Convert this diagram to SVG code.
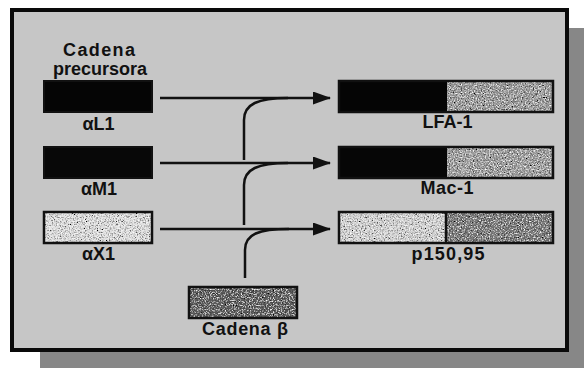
<svg xmlns="http://www.w3.org/2000/svg" width="584" height="368" viewBox="0 0 584 368">
<style>
.lbl{font-family:"Liberation Sans",Arial,sans-serif;font-size:18px;font-weight:bold;fill:#111;text-anchor:middle}
.box{stroke:#111;stroke-width:2}
.con{fill:none;stroke:#111;stroke-width:2.5}
</style>
<defs>
<marker id="ah" markerUnits="userSpaceOnUse" markerWidth="18" markerHeight="13" refX="17" refY="6.5" orient="auto">
<path d="M0,0 L18,6.5 L0,13 Z" fill="#111"/>
</marker>
<filter id="grain" x="0" y="0" width="100%" height="100%">
<feTurbulence type="fractalNoise" baseFrequency="0.75" numOctaves="2" seed="4" result="t"/>
<feColorMatrix in="t" type="matrix" values="0.33 0.33 0.33 0 0 0.33 0.33 0.33 0 0 0.33 0.33 0.33 0 0 0 0 0 0 1" result="g"/>
<feComponentTransfer in="g" result="g2">
<feFuncR type="linear" slope="2.4" intercept="-0.7"/>
<feFuncG type="linear" slope="2.4" intercept="-0.7"/>
<feFuncB type="linear" slope="2.4" intercept="-0.7"/>
</feComponentTransfer>
<feBlend in="SourceGraphic" in2="g2" mode="overlay" result="b"/>
<feComposite in="b" in2="SourceGraphic" operator="in"/>
</filter>
</defs>
<rect width="584" height="368" fill="#fff"/>
<rect x="40" y="28" width="544" height="340" fill="#878787"/>
<rect x="12" y="10" width="555" height="340" fill="#c6c6c6" stroke="#0a0a0a" stroke-width="4"/>

<g id="connectors">
<line class="con" x1="160" y1="98" x2="330" y2="98" marker-end="url(#ah)"/>
<line class="con" x1="160" y1="163" x2="330" y2="163" marker-end="url(#ah)"/>
<line class="con" x1="160" y1="229" x2="330" y2="229" marker-end="url(#ah)"/>
<path class="con" d="M244,160 L244,120 C244,104 258,98 288,98"/>
<path class="con" d="M244,225 L244,185 C244,169 258,163 288,163"/>
<path class="con" d="M245,278 L245,250 C245,234 259,229 289,229"/>
</g>

<g id="precursor-label">
<text class="lbl" x="99" y="56" textLength="72">Cadena</text>
<text class="lbl" x="100" y="75" textLength="94">precursora</text>
</g>

<g id="aL1">
<rect class="box" x="44" y="81" width="108" height="31" fill="#050505"/>
<text class="lbl" x="98.5" y="130">αL1</text>
</g>
<g id="aM1">
<rect class="box" x="44" y="147" width="108" height="31" fill="#080808"/>
<text class="lbl" x="99" y="195">αM1</text>
</g>
<g id="aX1">
<rect x="44" y="212" width="108" height="31" fill="#dedede" filter="url(#grain)"/>
<rect x="44" y="212" width="108" height="31" fill="none" stroke="#111" stroke-width="2.5"/>
<text class="lbl" x="98.5" y="260">αX1</text>
</g>
<g id="beta">
<rect x="189" y="287" width="108" height="31" fill="#606060" filter="url(#grain)"/>
<rect x="189" y="287" width="108" height="31" fill="none" stroke="#111" stroke-width="2.5"/>
<text class="lbl" x="245" y="335" textLength="86">Cadena β</text>
</g>

<g id="LFA-1">
<rect x="339" y="81" width="214" height="31" fill="#9c9c9c" filter="url(#grain)"/>
<rect x="339" y="81" width="108" height="31" fill="#050505"/>
<rect x="339" y="81" width="214" height="31" fill="none" stroke="#111" stroke-width="2.5"/>
<text class="lbl" x="447.5" y="128">LFA-1</text>
</g>
<g id="Mac-1">
<rect x="339" y="147" width="214" height="31" fill="#a0a0a0" filter="url(#grain)"/>
<rect x="339" y="147" width="108" height="31" fill="#060606"/>
<rect x="339" y="147" width="214" height="31" fill="none" stroke="#111" stroke-width="2.5"/>
<text class="lbl" x="447" y="194" textLength="53">Mac-1</text>
</g>
<g id="p150">
<rect x="339" y="212" width="108" height="31" fill="#d4d4d4" filter="url(#grain)"/>
<rect x="447" y="212" width="106" height="31" fill="#7c7c7c" filter="url(#grain)"/>
<line x1="446" y1="212" x2="446" y2="243" stroke="#111" stroke-width="2.5"/>
<rect x="339" y="212" width="214" height="31" fill="none" stroke="#111" stroke-width="2.5"/>
<text class="lbl" x="448" y="260" textLength="73">p150,95</text>
</g>
</svg>
